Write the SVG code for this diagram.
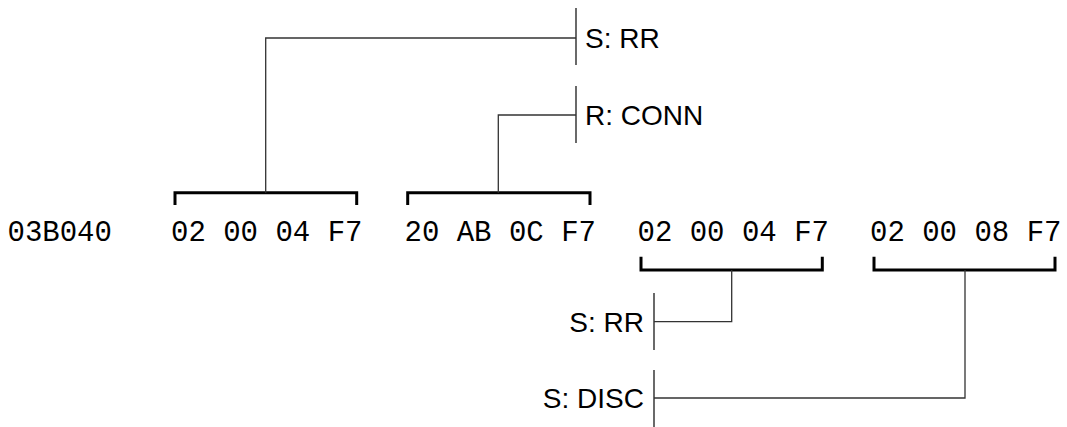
<svg xmlns="http://www.w3.org/2000/svg" width="1067" height="427" viewBox="0 0 1067 427">
<style>
.hex{font-family:"Liberation Mono","Courier New",monospace;font-size:29px;fill:#000}
.lbl{font-family:"Liberation Sans",Arial,sans-serif;font-size:28px;fill:#000}
.br{fill:none;stroke:#000;stroke-width:3}
.cn{fill:none;stroke:#333;stroke-width:1.3}
.bar{fill:none;stroke:#444;stroke-width:1.6}
</style>
<rect width="1067" height="427" fill="#fff"/>
<g id="addr"><text class="hex" x="7.5" y="240.5">03B040</text></g>
<g id="g1"><text class="hex" x="171" y="240.5">02 00 04 F7</text><path class="br" d="M175,205 V192.7 H356.7 V205"/></g>
<g id="g2"><text class="hex" x="404.5" y="240.5">20 AB 0C F7</text><path class="br" d="M407.7,205 V192.7 H590 V205"/></g>
<g id="g3"><text class="hex" x="637.5" y="240.5">02 00 04 F7</text><path class="br" d="M641,256.7 V270 H822.3 V256.7"/></g>
<g id="g4"><text class="hex" x="870" y="240.5">02 00 08 F7</text><path class="br" d="M874,256.7 V270 H1055 V256.7"/></g>
<g id="l1"><path class="bar" d="M576,8 V65"/><text class="lbl" x="585" y="47.5">S: RR</text></g>
<g id="l2"><path class="bar" d="M576,86 V143"/><text class="lbl" x="585" y="124.5">R: CONN</text></g>
<g id="l3"><path class="bar" d="M654,293 V350"/><text class="lbl" x="644" y="331.5" text-anchor="end">S: RR</text></g>
<g id="l4"><path class="bar" d="M654,370 V427"/><text class="lbl" x="644" y="408" text-anchor="end">S: DISC</text></g>
<g id="connectors">
<path class="cn" d="M265.7,192.7 V38 H576"/>
<path class="cn" d="M498.3,192.7 V115 H576"/>
<path class="cn" d="M731.7,270 V321.7 H654"/>
<path class="cn" d="M965,270 V398 H654"/>
</g>
</svg>
